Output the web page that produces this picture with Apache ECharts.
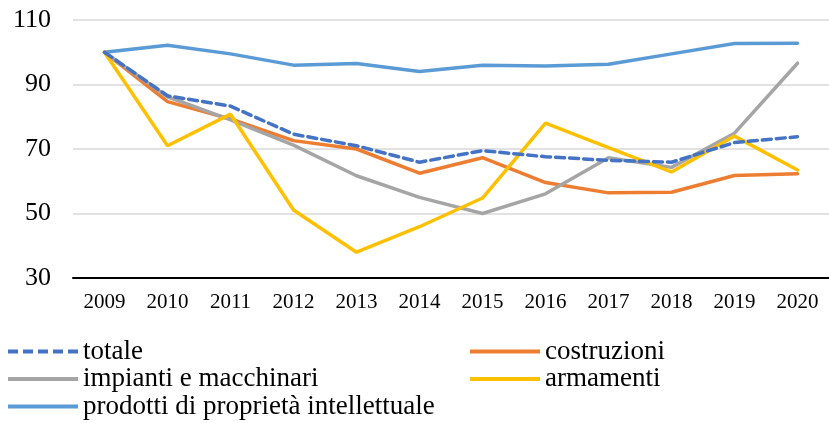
<!DOCTYPE html>
<html>
<head>
<meta charset="utf-8">
<script src="https://cdn.jsdelivr.net/npm/echarts@6/dist/echarts.min.js"></script>
<style>
  html, body { margin: 0; padding: 0; background: #fff; }
  #chart { width: 829px; height: 423px; }
</style>
</head>
<body>
<div id="chart"></div>
<script>
// Indici (2009 = 100) degli investimenti per tipologia
const years = ['2009', '2010', '2011', '2012', '2013', '2014', '2015', '2016', '2017', '2018', '2019', '2020'];
const totale = [100, 86.5, 83.3, 74.6, 71.0, 65.9, 69.5, 67.6, 66.5, 65.9, 72.0, 73.8];
const costruzioni = [100, 84.7, 79.3, 72.6, 70.0, 62.5, 67.3, 59.6, 56.4, 56.6, 61.8, 62.3];
const impianti = [100, 86.2, 79.0, 71.2, 61.7, 55.0, 50.0, 56.1, 67.3, 64.3, 74.9, 96.6];
const armamenti = [100, 71.0, 80.8, 51.1, 38.0, 45.9, 54.8, 78.0, 70.4, 62.9, 74.0, 63.5];
const prodotti = [100, 102.2, 99.5, 96.0, 96.5, 94.0, 96.0, 95.7, 96.3, 99.5, 102.7, 102.8];
const yTicks = { min: 30, max: 110, interval: 20 };

const FONT = 'Liberation Serif';

// legend keys: a solid bar and a dashed bar (70 x 4)
const SOLID_KEY = 'path://M0,0h70v4h-70z';
const DASHED_KEY = 'path://M0,0h10v4h-10zM15,0h10v4h-10zM30,0h10v4h-10zM45,0h10v4h-10zM60,0h10v4h-10z';

function lineSeries(name, data, color, dashed) {
  return {
    name: name,
    type: 'line',
    data: data,
    symbol: 'none',
    smooth: false,
    lineStyle: { color: color, width: 3.5, type: dashed ? [9, 5] : 'solid', cap: 'round' },
    itemStyle: { color: color },
    z: dashed ? 5 : 3
  };
}

const legendText = { fontFamily: FONT, fontSize: 27, color: '#000', lineHeight: 27 };

const chart = echarts.init(document.getElementById('chart'), null, { renderer: 'canvas' });
chart.setOption({
  animation: false,
  backgroundColor: '#fff',
  grid: { left: 73, top: 20, width: 768, height: 258, containLabel: false },
  xAxis: {
    type: 'category',
    data: years,
    boundaryGap: true,
    axisLine: { lineStyle: { color: '#000', width: 2 } },
    axisTick: { show: false },
    axisLabel: { fontFamily: FONT, fontSize: 21, color: '#000', margin: 14 }
  },
  yAxis: {
    type: 'value',
    min: yTicks.min,
    max: yTicks.max,
    interval: yTicks.interval,
    axisLine: { show: false },
    axisTick: { show: false },
    splitLine: { lineStyle: { color: '#d9d9d9', width: 1.5 } },
    axisLabel: { fontFamily: FONT, fontSize: 26, color: '#000', margin: 22 }
  },
  legend: [
    {
      orient: 'vertical',
      left: 8,
      top: 338,
      itemWidth: 70,
      itemHeight: 4,
      itemGap: 0.5,
      padding: 0,
      textStyle: legendText,
      data: [
        { name: 'totale', icon: DASHED_KEY },
        { name: 'impianti e macchinari', icon: SOLID_KEY },
        { name: 'prodotti di proprietà intellettuale', icon: SOLID_KEY }
      ]
    },
    {
      orient: 'vertical',
      left: 470,
      top: 338,
      itemWidth: 70,
      itemHeight: 4,
      itemGap: 0.5,
      padding: 0,
      textStyle: legendText,
      data: [
        { name: 'costruzioni', icon: SOLID_KEY },
        { name: 'armamenti', icon: SOLID_KEY }
      ]
    }
  ],
  series: [
    lineSeries('prodotti di proprietà intellettuale', prodotti, '#5B9BD5', false),
    lineSeries('costruzioni', costruzioni, '#ED7D31', false),
    lineSeries('impianti e macchinari', impianti, '#A5A5A5', false),
    lineSeries('armamenti', armamenti, '#FFC000', false),
    lineSeries('totale', totale, '#4472C4', true)
  ]
});
</script>
</body>
</html>
